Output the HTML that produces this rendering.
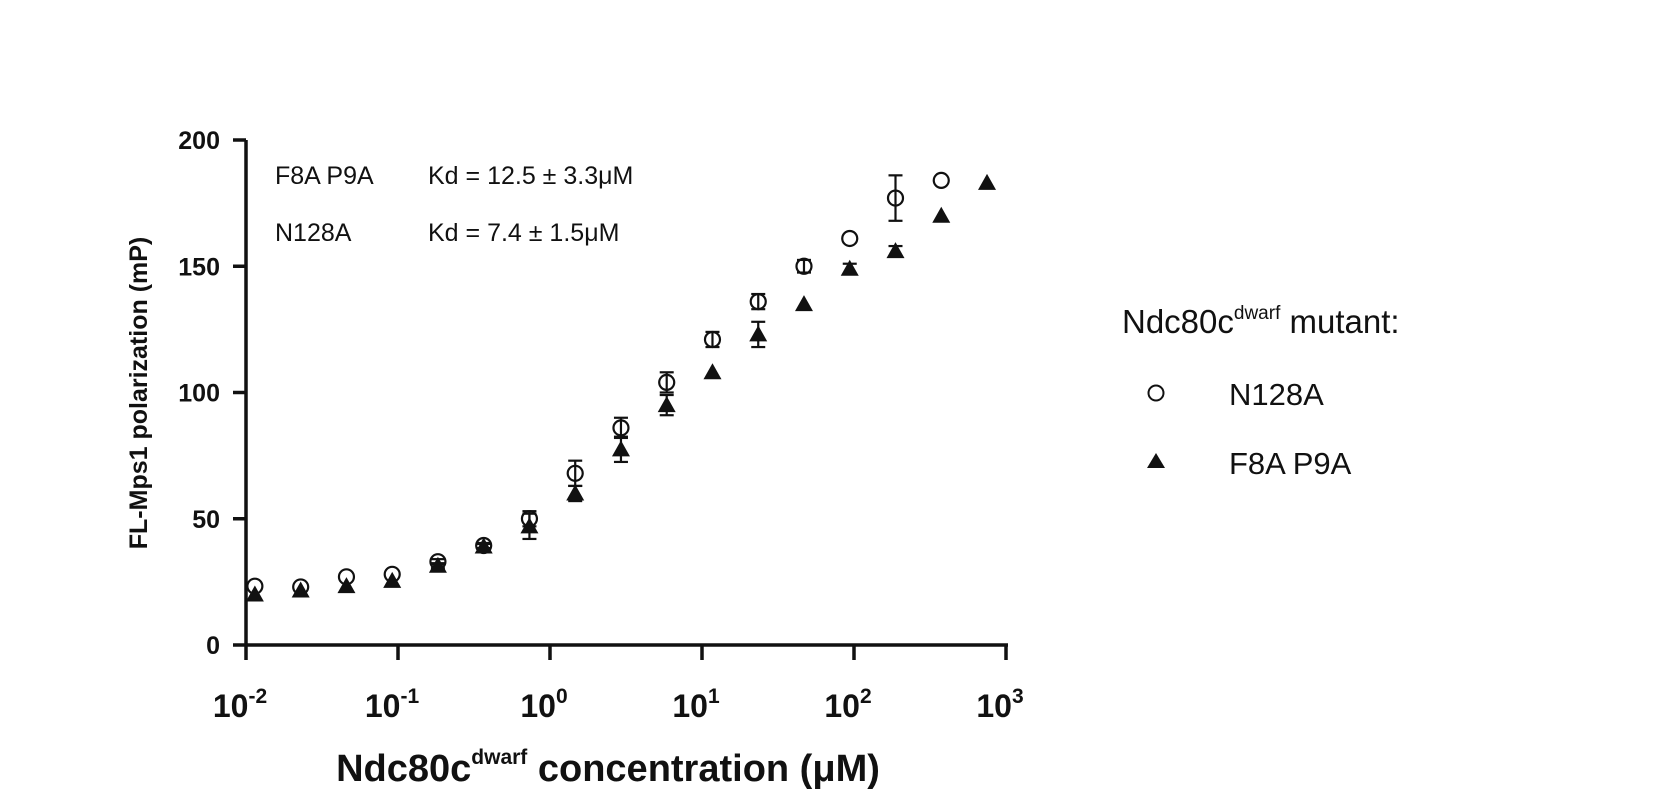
<!DOCTYPE html>
<html><head><meta charset="utf-8"><style>
html,body{margin:0;padding:0;background:#fff;width:1678px;height:796px;overflow:hidden}
svg{display:block}
text{font-family:"Liberation Sans",Arial,sans-serif;fill:#111}
</style></head><body>
<svg id="chart" width="1678" height="796" viewBox="0 0 1678 796">
<g id="axes"></g>
<g id="marks"></g>
<text x="275" y="184" font-size="25">F8A P9A</text>
<text x="428" y="184" font-size="25">Kd = 12.5 ± 3.3μM</text>
<text x="275" y="241" font-size="25">N128A</text>
<text x="428" y="241" font-size="25">Kd = 7.4 ± 1.5μM</text>
<text transform="translate(147,393) rotate(-90)" text-anchor="middle" font-size="25" font-weight="bold">FL-Mps1 polarization (mP)</text>
<text x="608" y="781" text-anchor="middle" font-size="38" font-weight="bold">Ndc80c<tspan font-size="21" dy="-17">dwarf</tspan><tspan dy="17"> concentration (μM)</tspan></text>
<g>
<text x="1122" y="333" font-size="33">Ndc80c<tspan font-size="19" dy="-14">dwarf</tspan><tspan dy="14"> mutant:</tspan></text>
<circle cx="1156" cy="393" r="7.5" fill="none" stroke="#111" stroke-width="2"/>
<text x="1229" y="405" font-size="31">N128A</text>
<polygon points="1156,453 1165,468 1147,468" fill="#111"/>
<text x="1229" y="474" font-size="31">F8A P9A</text>
</g>
</svg>
<script>
const concentrations=[750,375,187.5,93.75,46.875,23.44,11.72,5.859,2.930,1.465,0.7324,0.3662,0.1831,0.0916,0.0458,0.0229,0.01144];
const n128aValues=[null,184,177,161,150,136,121,104,86,68,50,39.4,33,28,27,23,23.3];
const n128aErr=[0,0,9,0,2.5,3,3,4,4,5,3,1,1,0,0,0,0];
const f8aValues=[183,170,156,149,135,123,108,95,77.5,60,47,39,31.4,25.4,23.3,21.6,20];
const f8aErr=[0,0,2,2,0,5,0,4,5,3,5,1,1,0,0,0,0];
const yTicks=[0,50,100,150,200];
const xTickExps=[-2,-1,0,1,2,3];
const NS='http://www.w3.org/2000/svg';
const X0=246,DEC=152,Y0=645,YS=2.525;
const xs=v=>X0+(Math.log10(v)+2)*DEC;
const ys=v=>Y0-v*YS;
function mk(tag,attrs,parent){const e=document.createElementNS(NS,tag);for(const k in attrs)e.setAttribute(k,attrs[k]);parent.appendChild(e);return e;}
const axes=document.getElementById('axes'),marks=document.getElementById('marks');
let l=mk('line',{x1:X0,y1:ys(200),x2:X0,y2:Y0,stroke:'#111','stroke-width':3.5},axes);


l=mk('line',{x1:X0,y1:Y0,x2:xs(1000)+2,y2:Y0,stroke:'#111','stroke-width':3.5},axes);


yTicks.forEach(t=>{
 const tk=mk('line',{x1:X0-13,y1:ys(t),x2:X0,y2:ys(t),stroke:'#111','stroke-width':3.5},axes);
 
 
 const tx=mk('text',{x:X0-26,y:ys(t)+9,'text-anchor':'end','font-size':25,'font-weight':'bold'},axes);
 tx.textContent=t;
 
 
});
xTickExps.forEach(e=>{
 const x=xs(Math.pow(10,e));
 const tk=mk('line',{x1:x,y1:Y0,x2:x,y2:Y0+15,stroke:'#111','stroke-width':3.5},axes);
 
 
 const tx=mk('text',{x:x-6,y:Y0+72,'text-anchor':'middle','font-size':32,'font-weight':'bold'},axes);
 tx.innerHTML='10<tspan font-size="21" dy="-14">'+e+'</tspan>';
 
 
});
function errbar(x,v,err){
 if(!err)return;
 const g=mk('g',{stroke:'#111','stroke-width':2.2},marks);
 
 
 mk('line',{x1:x,y1:ys(v+err),x2:x,y2:ys(v-err)},g);
 mk('line',{x1:x-7,y1:ys(v+err),x2:x+7,y2:ys(v+err)},g);
 mk('line',{x1:x-7,y1:ys(v-err),x2:x+7,y2:ys(v-err)},g);
}
concentrations.forEach((c,i)=>{
 const x=xs(c);
 if(n128aValues[i]!=null){
  errbar(x,n128aValues[i],n128aErr[i]);
  const p=mk('circle',{cx:x,cy:ys(n128aValues[i]),r:7.5,fill:'none',stroke:'#111','stroke-width':2.2},marks);
  
  
 }
 errbar(x,f8aValues[i],f8aErr[i]);
 const y=ys(f8aValues[i]);
 const t=mk('polygon',{points:`${x},${y-9} ${x+9},${y+7} ${x-9},${y+7}`,fill:'#111'},marks);
 
 
});
</script>
</body></html>
